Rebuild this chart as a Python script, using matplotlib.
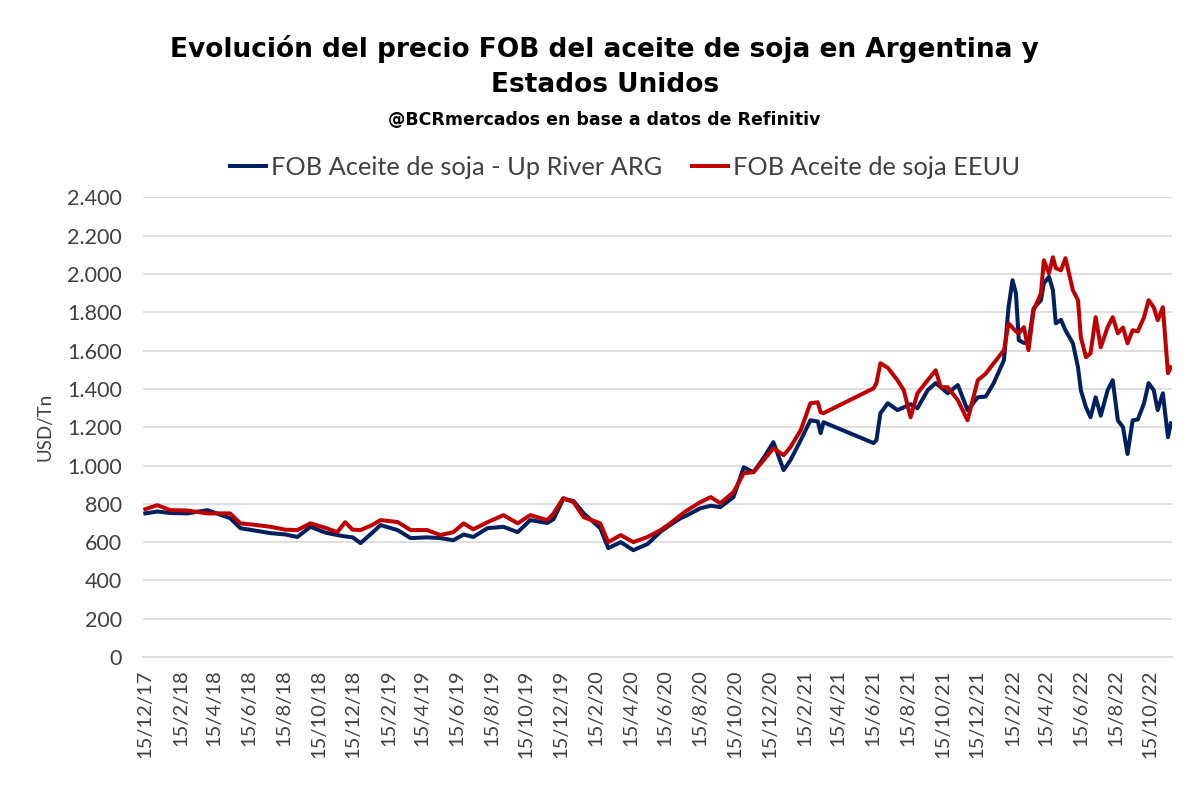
import matplotlib
matplotlib.use("Agg")
import matplotlib.pyplot as plt
import matplotlib.ticker as mticker
import pandas as pd

# ---- data ----
dates = [
    "2017-12-15", "2018-01-05", "2018-01-28", "2018-02-27", "2018-04-03", "2018-05-13",
    "2018-05-31", "2018-06-26", "2018-07-23", "2018-08-18", "2018-09-08", "2018-10-01",
    "2018-10-27", "2018-11-17", "2018-12-01", "2018-12-14", "2018-12-28", "2019-01-18",
    "2019-02-01", "2019-03-03", "2019-03-26", "2019-04-24", "2019-05-17", "2019-06-09",
    "2019-06-27", "2019-07-14", "2019-08-08", "2019-09-05", "2019-09-30", "2019-10-22",
    "2019-11-21", "2019-12-02", "2019-12-19", "2020-01-06", "2020-01-24", "2020-02-22",
    "2020-03-07", "2020-03-29", "2020-04-20", "2020-05-15", "2020-06-07", "2020-06-24",
    "2020-07-12", "2020-07-24", "2020-08-16", "2020-09-03", "2020-09-20", "2020-10-13",
    "2020-10-31", "2020-11-17", "2020-12-05", "2020-12-22", "2021-01-09", "2021-01-21",
    "2021-02-08", "2021-02-25", "2021-03-10", "2021-03-15", "2021-03-20", "2021-06-16",
    "2021-06-21", "2021-06-28", "2021-07-11", "2021-07-28", "2021-08-08", "2021-08-20",
    "2021-09-01", "2021-09-19", "2021-10-03", "2021-10-12", "2021-10-24", "2021-11-11",
    "2021-11-28", "2021-12-16", "2021-12-30", "2022-01-13", "2022-01-31", "2022-02-08",
    "2022-02-15", "2022-02-21", "2022-02-26", "2022-03-07", "2022-03-15", "2022-03-24",
    "2022-04-06", "2022-04-11", "2022-04-20", "2022-04-27", "2022-05-02", "2022-05-11",
    "2022-05-19", "2022-06-01", "2022-06-10", "2022-06-15", "2022-06-24", "2022-07-02",
    "2022-07-11", "2022-07-20", "2022-08-01", "2022-08-10", "2022-08-19", "2022-08-28",
    "2022-09-05", "2022-09-14", "2022-09-23", "2022-10-04", "2022-10-12", "2022-10-21",
    "2022-10-28", "2022-11-06", "2022-11-15", "2022-11-20",
]

fob_arg = [
    750, 760, 752, 750, 767, 725,
    673, 660, 647, 640, 627, 680,
    650, 637, 630, 625, 595, 650,
    689, 663, 621, 625, 621, 610,
    640, 627, 673, 680, 652, 715,
    700, 720, 825, 815, 750, 673,
    569, 600, 558, 590, 655, 690,
    725, 741, 777, 790, 783, 835,
    991, 965, 1040, 1122, 976, 1028,
    1132, 1236, 1230, 1169, 1226, 1117,
    1132, 1273, 1325, 1289, 1304, 1320,
    1299, 1393, 1430, 1409, 1377, 1420,
    1289, 1356, 1360, 1430, 1550, 1826,
    1967, 1899, 1654, 1640, 1640, 1820,
    1863, 1951, 1985, 1915, 1742, 1760,
    1706, 1638, 1513, 1393, 1304, 1252,
    1356, 1260, 1393, 1445, 1236, 1200,
    1060, 1236, 1240, 1325, 1430, 1393,
    1289, 1377, 1148, 1220,
]

fob_eeuu = [
    772, 793, 767, 765, 750, 750,
    698, 690, 680, 665, 663, 698,
    675, 652, 704, 665, 663, 690,
    715, 705, 663, 663, 637, 652,
    698, 667, 704, 741, 698, 741,
    715, 750, 830, 809, 730, 698,
    600, 637, 600, 627, 663, 698,
    741, 767, 809, 835, 803, 861,
    960, 965, 1028, 1090, 1054, 1096,
    1184, 1325, 1330, 1278, 1273, 1403,
    1430, 1534, 1510, 1445, 1393, 1252,
    1377, 1445, 1497, 1409, 1409, 1341,
    1236, 1445, 1480, 1534, 1602, 1742,
    1720, 1700, 1690, 1722, 1602, 1810,
    1899, 2071, 2003, 2087, 2030, 2019,
    2082, 1915, 1863, 1670, 1565, 1586,
    1774, 1617, 1722, 1774, 1690, 1720,
    1638, 1706, 1700, 1774, 1863, 1826,
    1758, 1826, 1482, 1513,
]

series_names = ["FOB Aceite de soja - Up River ARG", "FOB Aceite de soja EEUU"]
tick_dates = pd.date_range("2017-12-01", "2022-10-01", freq="2MS") + pd.Timedelta(days=14)
y_ticks = list(range(0, 2401, 200))

title_text = "Evolución del precio FOB del aceite de soja en Argentina y\nEstados Unidos"
subtitle_text = "@BCRmercados en base a datos de Refinitiv"
y_label = "USD/Tn"

# ---- figure ----
x = pd.to_datetime(dates)
fig = plt.figure(figsize=(12.02, 7.86), dpi=100)
ax = fig.add_axes([0.119, 0.164, 0.856, 0.585])

blue = "#002060"
red = "#C00000"
ax.plot(x, fob_arg, color=blue, lw=2.9, label=series_names[0], zorder=3)
ax.plot(x, fob_eeuu, color=red, lw=2.9, label=series_names[1], zorder=4)

ax.set_ylim(0, 2400)
ax.set_xlim(x[0] - pd.Timedelta(days=4), x[-1] + pd.Timedelta(days=2))
ax.set_yticks(y_ticks)
ax.yaxis.set_major_formatter(mticker.FuncFormatter(lambda v, p: f"{int(v):,}".replace(",", ".")))
ax.set_xticks(tick_dates)
ax.set_xticklabels([f"{d.day}/{d.month}/{d.strftime('%y')}" for d in tick_dates],
                   rotation=90, fontsize=14.5, family=["Lato", "DejaVu Sans"], color="#404040")
for lab in ax.get_yticklabels():
    lab.set_fontsize(15.5)
    lab.set_family(["Lato", "DejaVu Sans"])
    lab.set_color("#404040")

ax.grid(axis="y", color="#D9D9D9", lw=1.2)
ax.set_axisbelow(True)
for s in ["top", "right", "left"]:
    ax.spines[s].set_visible(False)
ax.spines["bottom"].set_color("#D9D9D9")
ax.spines["bottom"].set_linewidth(1.2)
ax.tick_params(axis="both", length=0)
ax.tick_params(axis="y", pad=15)
ax.tick_params(axis="x", pad=9)

ax.set_ylabel(y_label, fontsize=13.5, family=["Lato", "DejaVu Sans"], color="#404040", labelpad=10)

fig.text(0.503, 0.915, title_text, ha="center", va="center", fontsize=19, fontweight="bold",
         family=["DejaVu Sans"], linespacing=1.45, color="black")
fig.text(0.503, 0.847, subtitle_text, ha="center", va="center", fontsize=12.5, fontweight="bold",
         family=["DejaVu Sans"], color="black")

leg = fig.legend(loc="center", bbox_to_anchor=(0.52, 0.787), ncol=2, frameon=False,
                 prop={"family": ["Lato", "DejaVu Sans"], "size": 18.3},
                 handlelength=1.4, columnspacing=1.2, handletextpad=0.2)
for t in leg.get_texts():
    t.set_color("#404040")

fig.savefig("out.png", dpi=100)
